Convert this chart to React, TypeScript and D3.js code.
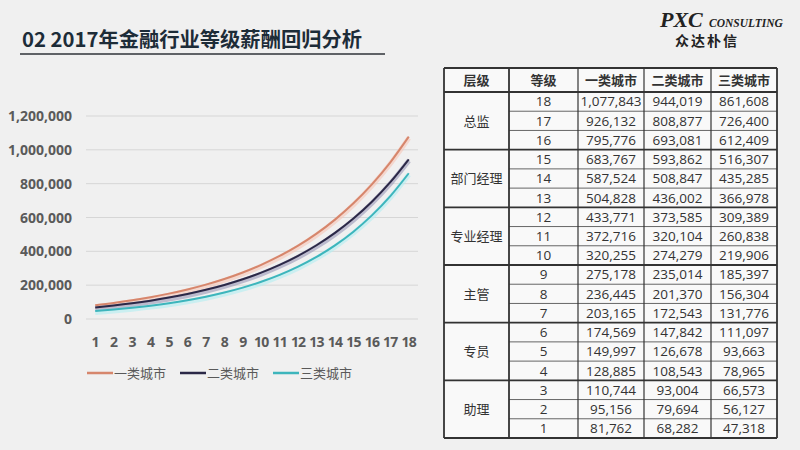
import React from 'react';
import * as d3 from 'd3';

const grades = [1, 2, 3, 4, 5, 6, 7, 8, 9, 10, 11, 12, 13, 14, 15, 16, 17, 18];
const seriesNames = ['一类城市', '二类城市', '三类城市'];
const city1 = [81762, 95156, 110744, 128885, 149997, 174569, 203165, 236445, 275178, 320255, 372716, 433771, 504828, 587524, 683767, 795776, 926132, 1077843];
const city2 = [68282, 79694, 93004, 108543, 126678, 147842, 172543, 201370, 235014, 274279, 320104, 373585, 436002, 508847, 593862, 693081, 808877, 944019];
const city3 = [47318, 56127, 66573, 78965, 93663, 111097, 131776, 156304, 185397, 219906, 260838, 309389, 366978, 435285, 516307, 612409, 726400, 861608];
const yTicks = [0, 200000, 400000, 600000, 800000, 1000000, 1200000];
const levels = ['总监', '部门经理', '专业经理', '主管', '专员', '助理'];
const tableHeader = ['层级', '等级', '一类城市', '二类城市', '三类城市'];

const colors = ['#d6866c', '#2b2847', '#3db5bc'];
const halos = ['#f6c6b8', '#9a98b8', '#b2eef2'];

const fmt = d3.format(',');

export default function App() {
  const W = 800, H = 450;
  const x = d3.scaleBand<number>().domain(grades).range([86, 418]);
  const y = d3.scaleLinear().domain([0, 1200000]).range([319, 116]);
  const series = [city1, city2, city3];
  const line = d3.line<number>()
    .x((_, i) => (x(grades[i]) as number) + x.bandwidth() / 2)
    .y(d => y(d))
    .curve(d3.curveMonotoneX);

  // table
  const colX = [444, 509, 578, 644, 711, 777];
  const tTop = 68, hdrBottom = 92, tBottom = 438;
  const rowsDesc = grades.slice().reverse();
  const rowScale = d3.scaleBand<number>().domain(rowsDesc).range([hdrBottom, tBottom]);
  const rh = rowScale.bandwidth();
  const tableFont = "'Open Sans', 'Noto Sans CJK SC', sans-serif";
  const cjkFont = "'Noto Sans CJK SC', sans-serif";

  return (
    <svg width={W} height={H} style={{ position: 'absolute', left: 0, top: 0 }} xmlns="http://www.w3.org/2000/svg">
      <rect width={W} height={H} fill="#f0f0f0" />
      {/* title */}
      <text x={22} y={47} fontFamily={cjkFont} fontWeight="bold" fontSize={20.3} fill="#1d2c38">02 2017年金融行业等级薪酬回归分析</text>
      <line x1={20} x2={385} y1={54} y2={54} stroke="#5f6266" strokeWidth={2} />
      {/* logo */}
      <text x={660} y={27} fontFamily="'Liberation Serif', serif" fontStyle="italic" fontWeight="bold" fontSize={22} fill="#222">PXC</text>
      <text x={709} y={27} fontFamily="'Liberation Serif', serif" fontStyle="italic" fontWeight="bold" fontSize={11.5} fill="#222">CONSULTING</text>
      <text x={675} y={46} fontFamily={cjkFont} fontWeight="bold" fontSize={14} fill="#222" letterSpacing={2}>众达朴信</text>

      {/* chart grid */}
      {yTicks.map(t => (
        <g key={t}>
          <line x1={86} x2={418} y1={y(t)} y2={y(t)} stroke="#d6d6d6" strokeWidth={1} />
          <text x={72} y={y(t)} dy="0.36em" textAnchor="end" fontFamily="'Open Sans', sans-serif" fontWeight="bold" fontSize={14} fill="#5a5a5a">{fmt(t)}</text>
        </g>
      ))}
      {grades.map(g => (
        <text key={g} x={(x(g) as number) + x.bandwidth() / 2} y={347} textAnchor="middle" fontFamily="'Open Sans', sans-serif" fontWeight="bold" fontSize={14} fill="#5a5a5a" letterSpacing={-0.8}>{g}</text>
      ))}
      {series.map((s, i) => (
        <g key={i}>
          <path d={line(s) as string} fill="none" stroke={halos[i]} strokeWidth={5} strokeOpacity={0.6} transform="translate(0,1.5)" />
          <path d={line(s) as string} fill="none" stroke={colors[i]} strokeWidth={2} />
        </g>
      ))}
      {/* legend */}
      {seriesNames.map((n, i) => {
        const lx = [87, 180, 273][i];
        return (
          <g key={n}>
            <line x1={lx} x2={lx + 26} y1={373} y2={373} stroke={colors[i]} strokeWidth={2.5} />
            <text x={lx + 27} y={373} dy="0.36em" fontFamily={cjkFont} fontSize={13} fill="#595959">{n}</text>
          </g>
        );
      })}

      {/* table */}
      <rect x={colX[0]} y={tTop} width={colX[5] - colX[0]} height={tBottom - tTop} fill="#f9f9f9" />
      {tableHeader.map((h, i) => (
        <text key={h} x={(colX[i] + colX[i + 1]) / 2} y={(tTop + hdrBottom) / 2} dy="0.36em" textAnchor="middle" fontFamily={cjkFont} fontWeight="bold" fontSize={13} fill="#333">{h}</text>
      ))}
      {rowsDesc.map((g, r) => {
        const yy = rowScale(g) as number;
        const vals = [city1[g - 1], city2[g - 1], city3[g - 1]];
        return (
          <g key={g}>
            {r % 3 !== 0 && <line x1={colX[1]} x2={colX[5]} y1={yy} y2={yy} stroke="#666" strokeWidth={1} />}
            <text x={(colX[1] + colX[2]) / 2} y={yy + rh / 2} dy="0.36em" textAnchor="middle" fontFamily={tableFont} fontSize={13.5} fill="#333">{g}</text>
            {vals.map((v, k) => (
              <text key={k} x={(colX[k + 2] + colX[k + 3]) / 2} y={yy + rh / 2} dy="0.36em" textAnchor="middle" fontFamily={tableFont} fontSize={13.5} fill="#333">{fmt(v)}</text>
            ))}
          </g>
        );
      })}
      {levels.map((lv, i) => {
        const y0 = (rowScale(rowsDesc[i * 3]) as number);
        return (
          <g key={lv}>
            <line x1={colX[0]} x2={colX[5]} y1={y0} y2={y0} stroke="#333" strokeWidth={1.8} />
            <text x={(colX[0] + colX[1]) / 2} y={y0 + rh * 1.5} dy="0.36em" textAnchor="middle" fontFamily={cjkFont} fontSize={13} fill="#333">{lv}</text>
          </g>
        );
      })}
      {colX.map((cx, i) => (
        <line key={i} x1={cx} x2={cx} y1={tTop} y2={tBottom} stroke="#333" strokeWidth={i === 0 || i === 5 || i === 1 ? 1.8 : 1.2} />
      ))}
      <line x1={colX[0]} x2={colX[5]} y1={tTop} y2={tTop} stroke="#333" strokeWidth={1.8} />
      <line x1={colX[0]} x2={colX[5]} y1={tBottom} y2={tBottom} stroke="#333" strokeWidth={1.8} />
    </svg>
  );
}
